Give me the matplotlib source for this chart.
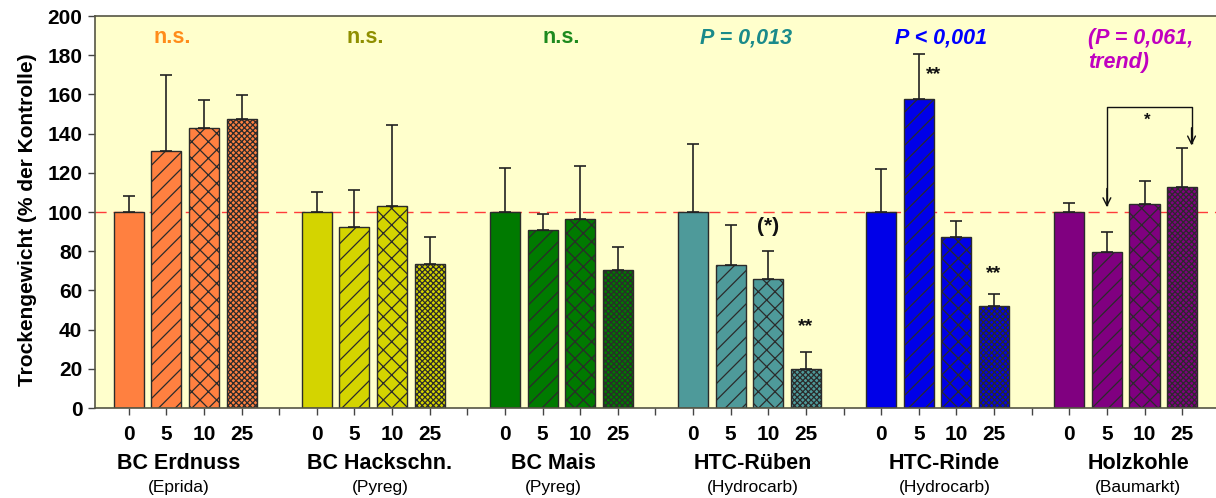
import matplotlib
matplotlib.use("Agg")
import matplotlib.pyplot as plt
import numpy as np

plt.rcParams['font.family'] = ['Liberation Sans', 'DejaVu Sans']
plt.rcParams['hatch.linewidth'] = 0.9
plt.rcParams['hatch.color'] = '#1a1a1a'

# ---- data ----
groups = ["BC Erdnuss", "BC Hackschn.", "BC Mais", "HTC-Rüben", "HTC-Rinde", "Holzkohle"]
sources = ["(Eprida)", "(Pyreg)", "(Pyreg)", "(Hydrocarb)", "(Hydrocarb)", "(Baumarkt)"]
doses = ["0", "5", "10", "25"]

erdnuss = [100, 131.3, 143.0, 147.3]
hackschn = [100, 92.5, 103.2, 73.5]
mais = [100, 90.6, 96.6, 70.2]
htc_rueben = [100, 72.8, 65.6, 19.7]
htc_rinde = [100, 157.8, 87.1, 52.0]
holzkohle = [100, 79.8, 104.1, 112.9]

erdnuss_sd = [8.2, 38.7, 14.0, 12.4]
hackschn_sd = [10.0, 18.5, 41.2, 13.6]
mais_sd = [22.6, 8.2, 26.9, 11.8]
htc_rueben_sd = [34.9, 20.6, 14.3, 8.9]
htc_rinde_sd = [22.1, 23.0, 8.5, 6.0]
holzkohle_sd = [4.8, 10.0, 11.5, 19.9]

p_labels = ["n.s.", "n.s.", "n.s.", "P = 0,013", "P < 0,001", "(P = 0,061,\ntrend)"]

# significance marks: (group index, dose index, text)
sig_marks = [(3, 2, "(*)"), (3, 3, "**"), (4, 1, "**"), (4, 3, "**")]
sig_y = [92.5, 41.3, 170.0, 68.5]

# ---- styles ----
values = [erdnuss, hackschn, mais, htc_rueben, htc_rinde, holzkohle]
sds = [erdnuss_sd, hackschn_sd, mais_sd, htc_rueben_sd, htc_rinde_sd, holzkohle_sd]
bar_colors = ["#FF8040", "#D4D400", "#007A00", "#4E9A9A", "#0000E8", "#800080"]
text_colors = ["#FF8C1A", "#8F8F00", "#1E8A1E", "#1A8A8A", "#0000FF", "#C000C0"]
hatches = [None, "//", "xx", "xxxxxx"]
p_x_offset = [-0.35, -0.2, 0.0, -0.1, 0.1, None]
label_x_offset = [-0.17, 0.18, -0.22, 0.1, 0.18, 0.33]
sig_x_offset = [0.0, 0.0, 0.4, 0.0]

fig = plt.figure(figsize=(12.16, 4.98), dpi=100)
ax = fig.add_axes([0.078, 0.1807, 0.922, 0.7871])
ax.set_facecolor("#FFFFCC")

slot = 5
width = 0.8
for g in range(len(groups)):
    xs = np.arange(4) + g * slot
    for i in range(4):
        ax.bar(xs[i], values[g][i], width=width, color=bar_colors[g],
               edgecolor="#2b2b2b", linewidth=1.0, hatch=hatches[i], zorder=2)
    ax.errorbar(xs, values[g], yerr=[np.zeros(4), sds[g]], fmt="none",
                ecolor="#222222", elinewidth=1.2, capsize=4.3, capthick=1.2, zorder=3)

# reference line
ax.axhline(100, color="#FF3B3B", linewidth=1.0, dashes=(8, 5), zorder=1.5)

# P labels
for g in range(len(groups)):
    center = 1.5 + g * slot
    if p_x_offset[g] is not None:
        style = "normal" if p_labels[g] == "n.s." else "italic"
        ax.text(center + p_x_offset[g], 189, p_labels[g], ha="center", va="center",
                fontsize=15.5, fontweight="bold", fontstyle=style, color=text_colors[g])
    else:
        ax.text(center - 1.0, 194, p_labels[g], ha="left", va="top",
                fontsize=15.5, fontweight="bold", fontstyle="italic", color=text_colors[g],
                linespacing=1.2)

# significance marks
for (g, d, t), yv, dx in zip(sig_marks, sig_y, sig_x_offset):
    ax.text(g * slot + d + dx, yv, t, ha="center", va="center",
            fontsize=15 if t == "(*)" else 14, fontweight="bold", color="#111111")

# bracket for Holzkohle 5 vs 25
g6 = 5 * slot
x_left = g6 + 1
x_right = g6 + 3.25
y_top = 153.7
ax.plot([x_left, x_left, x_right, x_right], [103.5, y_top, y_top, 135],
        color="#111111", linewidth=1.0, zorder=4)
ax.annotate("", xy=(x_left, 102.5), xytext=(x_left, 112),
            arrowprops=dict(arrowstyle="->", color="#111111", lw=1.0,
                            shrinkA=0, shrinkB=0, mutation_scale=14))
ax.annotate("", xy=(x_right, 134), xytext=(x_right, 143),
            arrowprops=dict(arrowstyle="->", color="#111111", lw=1.0,
                            shrinkA=0, shrinkB=0, mutation_scale=14))
ax.text((x_left + x_right) / 2 - 0.05, 147, "*", ha="center", va="center",
        fontsize=12, fontweight="bold", color="#111111")

# axes
ax.set_xlim(-0.9, 28.9)
ax.set_ylim(0, 200)
ticks = np.arange(0, 29)
ax.set_xticks(ticks)
tick_labels = []
for t in ticks:
    r = t % slot
    tick_labels.append(doses[r] if r < 4 else "")
ax.set_xticklabels(tick_labels, fontsize=15, fontweight="bold")
ax.set_yticks(np.arange(0, 201, 20))
ax.set_yticklabels([str(v) for v in range(0, 201, 20)], fontsize=15, fontweight="bold")
ax.tick_params(axis="x", length=5, width=1, pad=7, color="#444444")
ax.tick_params(axis="y", length=5, width=1, pad=4, color="#444444")
for s in ["left", "bottom", "top"]:
    ax.spines[s].set_color("#555544")
    ax.spines[s].set_linewidth(1.2)
ax.spines["right"].set_visible(False)

ax.set_ylabel("Trockengewicht (% der Kontrolle)", fontsize=15, fontweight="bold")
ax.yaxis.set_label_coords(-0.052, 0.48)

# group labels
for g in range(len(groups)):
    center = 1.5 + g * slot + label_x_offset[g]
    ax.text(center, -28.5, groups[g], ha="center", va="center", fontsize=15.5,
            fontweight="bold", clip_on=False)
    ax.text(center, -40.5, sources[g], ha="center", va="center", fontsize=12.5,
            clip_on=False)

fig.savefig("out.png", dpi=100, facecolor="white")
